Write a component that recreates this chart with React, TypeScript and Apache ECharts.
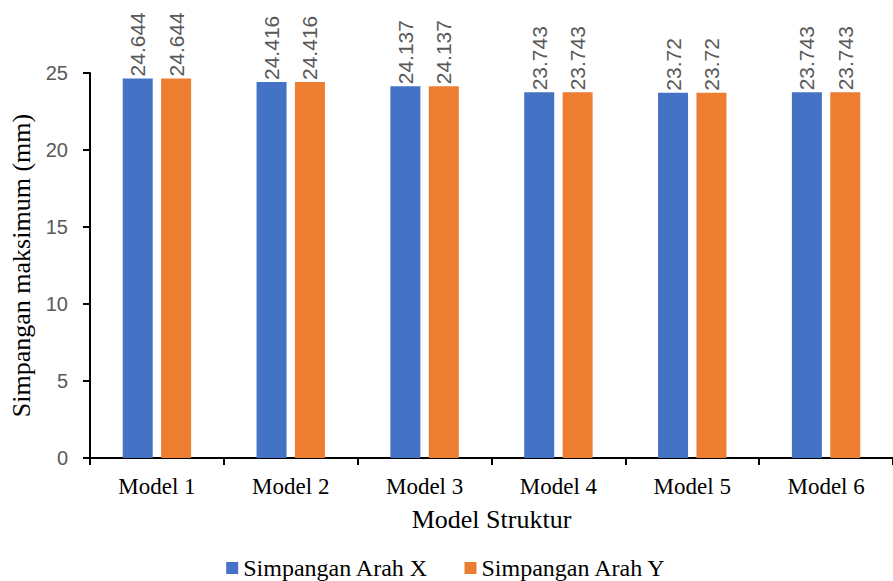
import React, { useEffect, useRef } from "react";
import * as echarts from "echarts";

const categories = ["Model 1", "Model 2", "Model 3", "Model 4", "Model 5", "Model 6"];
const seriesXValues = [24.644, 24.416, 24.137, 23.743, 23.72, 23.743];
const seriesYValues = [24.644, 24.416, 24.137, 23.743, 23.72, 23.743];
const seriesNames = ["Simpangan Arah X", "Simpangan Arah Y"];

export default function App() {
  const ref = useRef<HTMLDivElement>(null);
  useEffect(() => {
    if (!ref.current) return;
    const chart = echarts.init(ref.current, null, { renderer: "svg" });
    const label = {
      show: true,
      position: "top" as const,
      rotate: 90,
      align: "left" as const,
      verticalAlign: "middle" as const,
      distance: 2,
      color: "#595959",
      fontFamily: "Liberation Sans",
      fontSize: 21,
    };
    chart.setOption({
      animation: false,
      backgroundColor: "#ffffff",
      grid: { left: 90, top: 73, width: 810, bottom: 123, containLabel: false },
      legend: {
        top: 550,
        left: "center",
        itemWidth: 12,
        itemHeight: 12,
        itemGap: 36,
        icon: "rect",
        textStyle: { fontFamily: "Liberation Serif", fontSize: 24, color: "#000", lineHeight: 26 },
        data: seriesNames,
      },
      xAxis: {
        type: "category",
        data: categories,
        name: "Model Struktur",
        nameLocation: "middle",
        nameGap: 48,
        nameTextStyle: { fontFamily: "Liberation Serif", fontSize: 26, color: "#000" },
        axisLine: { lineStyle: { color: "#000", width: 2 } },
        axisTick: { show: true, length: 7, lineStyle: { color: "#000", width: 2 } },
        axisLabel: { fontFamily: "Liberation Serif", fontSize: 23, color: "#000", margin: 17 },
      },
      yAxis: {
        type: "value",
        min: 0,
        max: 25,
        interval: 5,
        name: "Simpangan maksimum (mm)",
        nameLocation: "middle",
        nameGap: 55,
        nameTextStyle: { fontFamily: "Liberation Serif", fontSize: 26, color: "#000" },
        axisLine: { show: true, lineStyle: { color: "#000", width: 2 } },
        axisTick: { show: true, length: 7, lineStyle: { color: "#000", width: 2 } },
        axisLabel: { fontFamily: "Liberation Sans", fontSize: 20, color: "#595959", margin: 22 },
        splitLine: { show: false },
      },
      series: [
        {
          name: seriesNames[0],
          type: "bar",
          data: seriesXValues,
          barWidth: 30,
          barGap: "28%",
          itemStyle: { color: "#4472C4" },
          label,
        },
        {
          name: seriesNames[1],
          type: "bar",
          data: seriesYValues,
          barWidth: 30,
          itemStyle: { color: "#ED7D31" },
          label,
        },
      ],
    });
    return () => chart.dispose();
  }, []);
  return (
    <div
      ref={ref}
      style={{ position: "fixed", left: 0, top: 0, width: 893, height: 581, background: "#fff" }}
    />
  );
}
